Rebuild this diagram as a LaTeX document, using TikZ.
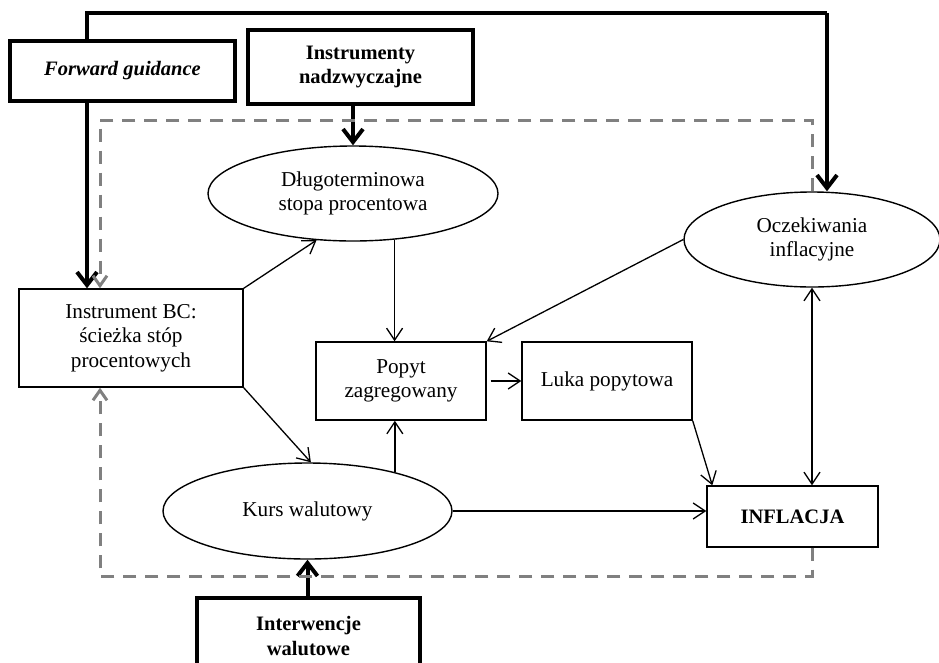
\documentclass[tikz,border=0pt]{standalone}
\usepackage{fontspec}
\setmainfont{Liberation Serif}
\usetikzlibrary{arrows.meta,shapes.geometric,calc}
\begin{document}
\begin{tikzpicture}[x=1pt,y=-1pt,
  every node/.style={font=\fontsize{21.2}{24.5}\selectfont, align=center, inner sep=0pt},
  boldtxt/.style={font=\fontsize{20.5}{24.5}\selectfont\bfseries},
  box/.style={draw, line width=1.4pt, rectangle},
  bigbox/.style={draw, line width=3.5pt, rectangle, boldtxt},
  oval/.style={draw, line width=1.4pt, ellipse},
  thinarr/.style={line width=1.3pt, -{Straight Barb[length=12pt,width=16pt]}},
  thickarr/.style={line width=4pt, -{Straight Barb[length=13pt,width=20pt]}},
  fbarr/.style={draw=gray, line width=3pt, dash pattern=on 13pt off 9pt, -{Straight Barb[length=10pt,width=14pt]}}
]
\useasboundingbox (0,0) rectangle (939,662);
\clip (0,0) rectangle (939,662);

% nodes
\node[bigbox, minimum width=225, minimum height=60] (fg) at (122.5,71) {\itshape Forward guidance};
\node[bigbox, minimum width=225, minimum height=74] (inst) at (360.5,67) {Instrumenty\\nadzwyczajne};
\node[box, minimum width=224, minimum height=98] (bc) at (131,338) {Instrument BC:\\ścieżka stóp\\procentowych};
\node[oval, minimum width=290, minimum height=95] (dl) at (353,193.5) {Długoterminowa\\stopa procentowa};
\node[oval, minimum width=256, minimum height=95] (oc) at (812,239.5) {Oczekiwania\\inflacyjne};
\node[box, minimum width=170, minimum height=78] (pop) at (401,381) {Popyt\\zagregowany};
\node[box, minimum width=170, minimum height=78] (luka) at (607,381) {Luka popytowa};
\node[oval, minimum width=289, minimum height=96] (kurs) at (307.5,511) {Kurs walutowy};
\node[box, boldtxt, minimum width=171, minimum height=61] (infl) at (792.5,516.5) {INFLACJA};
\node[bigbox, minimum width=223, minimum height=76] (intw) at (308.5,636) {Interwencje\\walutowe};

% helper coordinates
\coordinate (fgx) at (87,13);
\coordinate (ocx) at (827,13);
\coordinate (fbtl) at (100,120);
\coordinate (fbbl) at (100,576);

% thick connectors
\draw[line width=4pt] (fgx |- fg.north) -- (fgx) -- (ocx);
\draw[thickarr] (ocx) -- (ocx |- oc.north);
\draw[thickarr] (fgx |- fg.south) -- (fgx |- bc.north);
\draw[thickarr] (dl.north |- inst.south) -- (dl.north);
\draw[thickarr] (kurs.south |- intw.north) -- (kurs.south);

% dashed feedback
\draw[fbarr] (oc.north) -- (oc.north |- fbtl) -- (fbtl) -- (fbtl |- bc.north);
\draw[fbarr] (oc.south |- infl.south) -- (oc.south |- fbbl) -- (fbbl) -- (fbbl |- bc.south);

% thin connectors
\draw[thinarr] (bc.north east) -- (dl.232);
\draw[thinarr] (bc.south east) -- (kurs.86);
\draw[thinarr] (dl.-48) -- (dl.-48 |- pop.north);
\draw[thinarr] (kurs.24) -- (kurs.24 |- pop.south);
\draw[thinarr] (oc.west) -- (pop.north east);
\draw[thinarr, shorten <=4pt] (pop.east) -- (luka.west);
\draw[thinarr] (luka.south east) -- ($(infl.north west)+(6,0)$);
\draw[thinarr] (kurs.east) -- (kurs.east -| infl.west);
\draw[line width=1.3pt, {Straight Barb[length=12pt,width=16pt]}-{Straight Barb[length=12pt,width=16pt]}] (oc.south) -- (oc.south |- infl.north);
\end{tikzpicture}
\end{document}
